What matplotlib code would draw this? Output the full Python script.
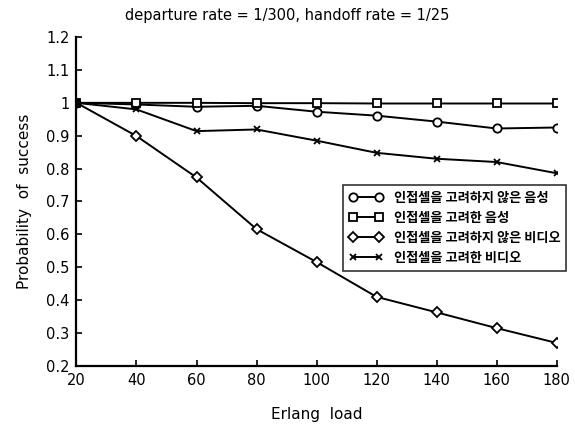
import matplotlib
matplotlib.use('Agg')
import matplotlib.pyplot as plt
from matplotlib.font_manager import FontProperties

# 데이터
erlang_load = [20, 40, 60, 80, 100, 120, 140, 160, 180]
voice_no_adj = [1.0, 0.995, 0.988, 0.991, 0.973, 0.961, 0.943, 0.922, 0.925]
voice_adj = [1.0, 1.0, 1.0, 0.999, 0.999, 0.998, 0.998, 0.998, 0.998]
video_no_adj = [1.0, 0.899, 0.773, 0.616, 0.516, 0.41, 0.363, 0.315, 0.27]
video_adj = [1.0, 0.98, 0.914, 0.919, 0.885, 0.848, 0.83, 0.82, 0.786]

labels = ['인접셀을 고려하지 않은 음성', '인접셀을 고려한 음성',
          '인접셀을 고려하지 않은 비디오', '인접셀을 고려한 비디오']
y_ticks = [0.2, 0.3, 0.4, 0.5, 0.6, 0.7, 0.8, 0.9, 1.0, 1.1, 1.2]
y_tick_labels = ['0.2', '0.3', '0.4', '0.5', '0.6', '0.7', '0.8', '0.9', '1', '1.1', '1.2']

fig = plt.figure(figsize=(5.75, 4.26), dpi=100)
ax = fig.add_axes([0.133, 0.141, 0.835, 0.772])

series = [
    (voice_no_adj, 'o', 6),
    (voice_adj, 's', 6),
    (video_no_adj, 'D', 5),
    (video_adj, 'x', 5),
]
for (vals, mk, ms), lab in zip(series, labels):
    ax.plot(erlang_load, vals, color='black', lw=1.4, marker=mk, ms=ms,
            mfc='white', mec='black', mew=1.3, label=lab)

ax.set_xlim(20, 180)
ax.set_ylim(0.2, 1.2)
ax.set_xticks(erlang_load)
ax.set_yticks(y_ticks)
ax.set_yticklabels(y_tick_labels)
ax.tick_params(direction='in', length=4, width=1.2, labelsize=10.5, pad=5)
for side in ['top', 'right']:
    ax.spines[side].set_visible(False)
for side in ['left', 'bottom']:
    ax.spines[side].set_linewidth(1.6)

ax.set_xlabel('Erlang  load', fontsize=11, labelpad=14)
ax.set_ylabel('Probability  of  success', fontsize=11, labelpad=10)
fig.text(0.5, 0.963, 'departure rate = 1/300, handoff rate = 1/25',
         ha='center', va='center', fontsize=10.5)

leg_font = FontProperties(family=['Noto Sans CJK KR', 'DejaVu Sans'], size=9.5, weight='bold')
leg = ax.legend(loc='upper left', bbox_to_anchor=(0.555, 0.55), prop=leg_font,
                numpoints=2, handlelength=2.6, handletextpad=0.8,
                borderpad=0.45, labelspacing=0.45, borderaxespad=0,
                frameon=True, fancybox=False, edgecolor='black')
leg.get_frame().set_linewidth(1.2)

fig.savefig('out.png', dpi=100)
